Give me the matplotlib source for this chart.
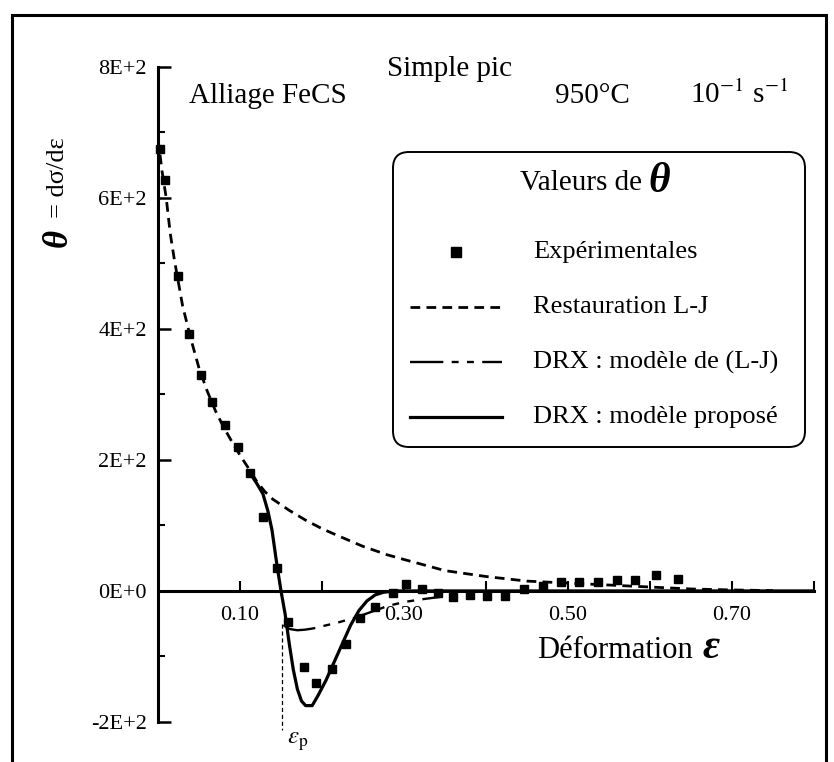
import matplotlib
matplotlib.use('Agg')
import matplotlib.pyplot as plt
from matplotlib.lines import Line2D
from matplotlib.patches import FancyBboxPatch, Rectangle
from matplotlib.transforms import IdentityTransform

plt.rcParams['font.family'] = ['Liberation Serif', 'DejaVu Serif']
plt.rcParams['mathtext.fontset'] = 'stix'
plt.rcParams['lines.scale_dashes'] = False

# valeurs experimentales de theta
eps_exp = [0.002, 0.009, 0.024, 0.038, 0.052, 0.066, 0.082, 0.097, 0.112, 0.128,
           0.145, 0.158, 0.178, 0.193, 0.212, 0.229, 0.246, 0.265, 0.286, 0.302,
           0.322, 0.342, 0.360, 0.380, 0.401, 0.423, 0.446, 0.469, 0.492, 0.513,
           0.537, 0.560, 0.582, 0.607, 0.634]
theta_exp = [675, 627, 480, 392, 330, 288, 253, 220, 180, 113,
             35, -48, -116, -141, -119, -81, -42, -25, -3, 10,
             3, -3, -9, -6, -8, -8, 3, 8, 13, 13,
             14, 16, 16, 24, 18]

# restauration L-J
eps_rest = [0.0, 0.005, 0.010, 0.015, 0.020, 0.025, 0.030, 0.035, 0.040, 0.050,
            0.060, 0.070, 0.080, 0.090, 0.100, 0.110, 0.120, 0.130, 0.140, 0.160,
            0.180, 0.200, 0.220, 0.250, 0.280, 0.300, 0.350, 0.400, 0.450, 0.500,
            0.550, 0.600, 0.650, 0.700, 0.750]
theta_rest = [690, 640, 600, 545, 505, 470, 435, 410, 385, 340,
              305, 275, 250, 228, 207, 188, 168, 152, 140, 123,
              108, 95, 84, 68, 55, 48, 31, 22, 15, 12,
              9, 6, 3, 1.5, 0.5]

# DRX : modele de (L-J)
eps_lj = [0.153, 0.160, 0.170, 0.180, 0.190, 0.200, 0.220, 0.240, 0.260, 0.280,
          0.300, 0.320, 0.345]
theta_lj = [-52, -58, -60, -59, -57, -54, -48, -41, -32, -23,
            -17, -13, -9]

# DRX : modele propose
eps_drx = [0.112, 0.120, 0.128, 0.134, 0.139, 0.145, 0.150, 0.155, 0.160, 0.165,
           0.170, 0.175, 0.180, 0.188, 0.195, 0.205, 0.215, 0.225, 0.235, 0.245,
           0.255, 0.265, 0.275, 0.290, 0.400, 0.800]
theta_drx = [180, 165, 148, 122, 93, 40, 0, -35, -80, -120,
             -150, -168, -175, -175, -160, -136, -108, -80, -52, -30,
             -15, -6, -2, 0, 0, 0]

eps_p = 0.151
theta_p = -50

x_ticks = [0.1, 0.2, 0.3, 0.4, 0.5, 0.6, 0.7, 0.8]
x_labels = ['0.10', '', '0.30', '', '0.50', '', '0.70', '']
y_ticks = [-200, 0, 200, 400, 600, 800]
y_labels = ['-2E+2', '0E+0', '2E+2', '4E+2', '6E+2', '8E+2']
y_minor = [-100, 100, 300, 500, 700]

dash_rest = (7, 4.5)
dash_lj = (24, 6, 5, 6, 5, 6)

W, H = 834, 762
fig = plt.figure(figsize=(W / 100, H / 100), dpi=100)
ax = fig.add_axes([158 / W, (H - 722) / H, 656 / W, 655.3 / H])

ax.plot(eps_rest, theta_rest, color='k', lw=2.0, dashes=dash_rest)
ax.plot(eps_lj, theta_lj, color='k', lw=1.7, dashes=dash_lj)
ax.plot(eps_drx, theta_drx, color='k', lw=2.3)
ax.plot(eps_exp, theta_exp, 's', color='k', ms=5.5, ls='none', clip_on=False)

ax.plot([eps_p, eps_p], [theta_p, -212], color='k', lw=0.9, dashes=(3, 2), clip_on=False)
ax.text(eps_p + 0.006, -230, r'$\varepsilon_\mathrm{p}$', fontsize=18, ha='left', va='center')

ax.set_xlim(0, 0.8)
ax.set_ylim(-200, 800)
ax.spines['top'].set_visible(False)
ax.spines['right'].set_visible(False)
ax.spines['bottom'].set_position(('data', 0))
ax.spines['left'].set_linewidth(2.2)
ax.spines['bottom'].set_linewidth(2.2)
ax.set_xticks(x_ticks, x_labels)
ax.set_yticks(y_ticks, y_labels)
ax.set_yticks(y_minor, minor=True)
ax.tick_params(axis='y', which='major', direction='in', length=9, width=1.8, pad=8, labelsize=16)
ax.tick_params(axis='y', which='minor', direction='in', length=5, width=1.5)
ax.tick_params(axis='x', which='major', direction='in', length=7, width=1.5, pad=11, labelsize=16)


def px(x, y):
    return x / W, 1 - y / H


# textes du haut
fig.text(*px(450, 76), 'Simple pic', fontsize=21, ha='center', va='baseline')
fig.text(*px(189, 103), 'Alliage FeCS', fontsize=21, ha='left', va='baseline')
fig.text(*px(555, 103), '950°C', fontsize=21, ha='left', va='baseline')
fig.text(*px(690, 103), r'10$^{-1}$ s$^{-1}$', fontsize=21, ha='left', va='baseline')

# titres des axes
fig.text(*px(537, 650), 'Déformation', fontsize=22, ha='left', va='center')
fig.text(*px(703, 648), 'ε', fontsize=30, ha='left', va='center',
         style='italic', weight='bold')
fig.text(*px(58, 238), 'θ', fontsize=25, rotation=90, ha='center', va='center',
         style='italic', weight='bold')
fig.text(*px(58, 178), '= dσ/dε', fontsize=19, rotation=90, ha='center', va='center')

# legende
tr = IdentityTransform()
fig.add_artist(FancyBboxPatch((393, H - 447), 412, 295,
                              boxstyle='round,pad=0,rounding_size=16',
                              transform=tr, fc='white', ec='k', lw=1.4))
fig.text(*px(520, 190), 'Valeurs de', fontsize=21, ha='left', va='baseline')
fig.text(*px(648, 192), 'θ', fontsize=30, ha='left', va='baseline',
         style='italic', weight='bold')

rows = [252, 307, 362, 417]
labels = ['Expérimentales', 'Restauration L-J', 'DRX : modèle de (L-J)', 'DRX : modèle proposé']
fig.add_artist(Line2D([456], [H - rows[0]], transform=tr, marker='s', color='k', ms=7, ls='none'))
fig.add_artist(Line2D([410, 502], [H - rows[1]] * 2, transform=tr, color='k', lw=2.0, dashes=dash_rest))
fig.add_artist(Line2D([410, 502], [H - rows[2]] * 2, transform=tr, color='k', lw=1.7, dashes=dash_lj))
fig.add_artist(Line2D([410, 502], [H - rows[3]] * 2, transform=tr, color='k', lw=2.3))
for r, lab in zip(rows, labels):
    fig.text(*px(533, r), lab, fontsize=19, ha='left', va='center')

# cadre
fig.add_artist(Rectangle((12, -10), 814, H - 15 + 10, transform=tr, fill=False, ec='k', lw=2.2))

fig.savefig('out.png', dpi=100)
